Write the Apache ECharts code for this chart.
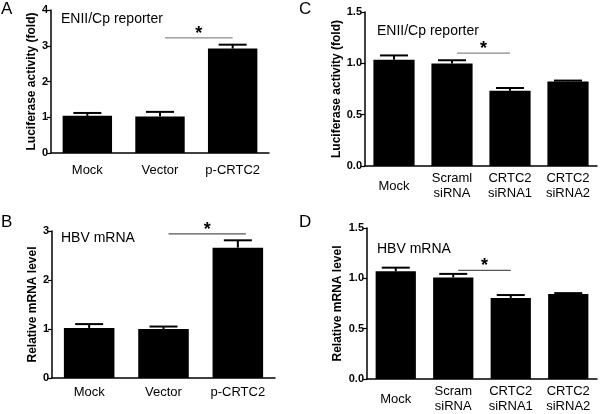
<!DOCTYPE html>
<html><head><meta charset="utf-8">
<script src="https://cdn.jsdelivr.net/npm/echarts@6/dist/echarts.min.js"></script>
<style>html,body{margin:0;padding:0;background:#fff}#c{width:600px;height:414px}</style>
</head><body><div id="c"></div>
<script>
// Panel A
const catsA = ['Mock', 'Vector', 'p-CRTC2'];
const meanA = [1.04, 1.02, 2.92];
const semA = [0.08, 0.13, 0.11];
const yTicksA = [0, 1, 2, 3, 4];
const sigA = [1, 2, 3.22];
// Panel B
const catsB = ['Mock', 'Vector', 'p-CRTC2'];
const meanB = [1.02, 1.00, 2.66];
const semB = [0.08, 0.05, 0.15];
const yTicksB = [0, 1, 2, 3];
const sigB = [1, 2, 2.94];
// Panel C
const catsC = ['Mock', 'Scraml\nsiRNA', 'CRTC2\nsiRNA1', 'CRTC2\nsiRNA2'];
const meanC = [1.035, 0.998, 0.734, 0.822];
const semC = [0.042, 0.032, 0.026, 0.01];
const yTicksC = [0.0, 0.5, 1.0, 1.5];
const sigC = [1, 2, 1.10];
// Panel D
const catsD = ['Mock', 'Scram\nsiRNA', 'CRTC2\nsiRNA1', 'CRTC2\nsiRNA2'];
const meanD = [1.07, 1.008, 0.804, 0.844];
const semD = [0.036, 0.036, 0.03, 0.009];
const yTicksD = [0.0, 0.5, 1.0, 1.5];
const sigD = [1, 2, 1.08];

const FONT = 'Liberation Sans, Arial, sans-serif';

const panels = [
  {cats: catsA, mean: meanA, sem: semA, ticks: yTicksA, sig: sigA, sigColor: '#8a8a8a', dec: 0, sigEnd: 0,
   grid: {left: 51, top: 10, width: 218, height: 143}, yName: 'Luciferase activity (fold)', nameGap: 13, gap: 0.32, labelMargin: 17},
  {cats: catsB, mean: meanB, sem: semB, ticks: yTicksB, sig: sigB, sigColor: '#555', dec: 0, sigEnd: 8,
   grid: {left: 52, top: 231, width: 223, height: 147}, yName: 'Relative mRNA level', nameGap: 11, gap: 0.32, labelMargin: 14},
  {cats: catsC, mean: meanC, sem: semC, ticks: yTicksC, sig: sigC, sigColor: '#8a8a8a', dec: 1, sigEnd: 0,
   grid: {left: 365, top: 12, width: 232, height: 154}, yName: 'Luciferase activity (fold)', nameGap: 21, gap: 0.29, labelMargin: 20},
  {cats: catsD, mean: meanD, sem: semD, ticks: yTicksD, sig: sigD, sigColor: '#555', dec: 1, sigEnd: 0,
   grid: {left: 367, top: 228, width: 230, height: 153}, yName: 'Relative mRNA level', nameGap: 23, gap: 0.30, labelMargin: 20}
];

const grids = [], xAxes = [], yAxes = [], series = [];
panels.forEach((p, k) => {
  grids.push(Object.assign({containLabel: false}, p.grid));
  xAxes.push({
    type: 'category', gridIndex: k, data: p.cats,
    axisLine: {lineStyle: {color: '#000', width: 1.5}},
    axisTick: {alignWithLabel: true, length: 4, lineStyle: {color: '#000', width: 1.2}},
    axisLabel: {color: '#000', fontFamily: FONT, fontSize: 13, lineHeight: 15, margin: p.labelMargin, verticalAlign: 'middle', interval: 0}
  });
  const t = p.ticks;
  yAxes.push({
    type: 'value', gridIndex: k, min: t[0], max: t[t.length - 1], interval: t[1] - t[0],
    name: p.yName, nameLocation: 'middle', nameGap: p.nameGap,
    nameTextStyle: {color: '#000', fontFamily: FONT, fontSize: 12, fontWeight: 'bold'},
    splitLine: {show: false},
    axisLine: {show: true, lineStyle: {color: '#000', width: 1.5}},
    axisTick: {show: true, length: 4, lineStyle: {color: '#000', width: 1.2}},
    axisLabel: {color: '#000', fontFamily: FONT, fontSize: 11, fontWeight: 'bold', margin: 3,
      formatter: v => v.toFixed(p.dec)}
  });
  series.push({
    type: 'bar', xAxisIndex: k, yAxisIndex: k, data: p.mean,
    barCategoryGap: Math.round(p.gap * 100) + '%',
    itemStyle: {color: '#000'}, silent: true
  });
  series.push({
    type: 'custom', xAxisIndex: k, yAxisIndex: k, z: 3,
    data: p.mean.map((m, i) => [i, m, p.sem[i]]),
    encode: {x: 0, y: 1},
    renderItem: (params, api) => {
      const i = api.value(0);
      const base = api.coord([i, api.value(1)]);
      const top = api.coord([i, api.value(1) + api.value(2)]);
      return {type: 'group', children: [
        {type: 'line', shape: {x1: base[0], y1: base[1], x2: top[0], y2: top[1]}, style: {stroke: '#000', lineWidth: 2}},
        {type: 'line', shape: {x1: top[0] - 14, y1: top[1], x2: top[0] + 14, y2: top[1]}, style: {stroke: '#000', lineWidth: 2}}
      ]};
    }
  });
  series.push({
    type: 'custom', xAxisIndex: k, yAxisIndex: k, z: 4,
    data: [p.sig], encode: {x: 0, y: 2},
    renderItem: (params, api) => {
      const a = api.coord([api.value(0), api.value(2)]);
      const b = api.coord([api.value(1), api.value(2)]);
      const x1 = a[0] + 5, x2 = b[0] + p.sigEnd;
      return {type: 'group', children: [
        {type: 'line', shape: {x1: x1, y1: a[1], x2: x2, y2: b[1]}, style: {stroke: p.sigColor, lineWidth: 1.3}},
        {type: 'text', x: (x1 + x2) / 2, y: a[1] + 5, style: {text: '*', fill: '#000', font: 'bold 18px ' + FONT, align: 'center', verticalAlign: 'bottom'}}
      ]};
    }
  });
});

const titleStyle = {color: '#000', fontFamily: FONT, fontSize: 14, fontWeight: 'normal'};
const letterStyle = {color: '#000', fontFamily: FONT, fontSize: 17, fontWeight: 'normal'};
const titles = [
  {text: 'A', left: 1, top: 1, textStyle: letterStyle, padding: 0},
  {text: 'C', left: 299, top: 1, textStyle: letterStyle, padding: 0},
  {text: 'B', left: 1, top: 214, textStyle: letterStyle, padding: 0},
  {text: 'D', left: 299, top: 214, textStyle: letterStyle, padding: 0},
  {text: 'ENII/Cp reporter', left: 61, top: 12, textStyle: titleStyle, padding: 0},
  {text: 'ENII/Cp reporter', left: 377, top: 24, textStyle: titleStyle, padding: 0},
  {text: 'HBV mRNA', left: 61, top: 231, textStyle: titleStyle, padding: 0},
  {text: 'HBV mRNA', left: 377, top: 242, textStyle: titleStyle, padding: 0}
];

const chart = echarts.init(document.getElementById('c'), null, {renderer: 'canvas'});
chart.setOption({
  animation: false,
  backgroundColor: '#fff',
  title: titles,
  grid: grids, xAxis: xAxes, yAxis: yAxes, series: series
});
</script></body></html>
